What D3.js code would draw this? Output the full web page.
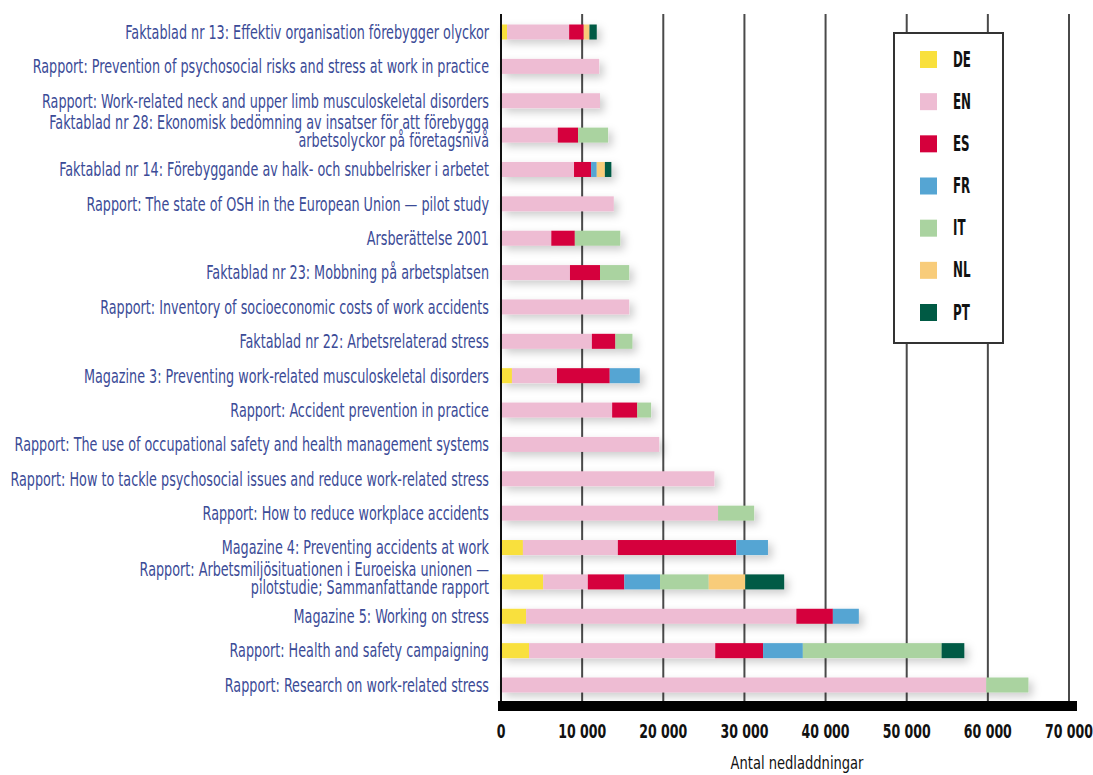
<!DOCTYPE html>
<html>
<head>
<meta charset="utf-8">
<script src="https://cdn.jsdelivr.net/npm/d3@7"></script>
<style>
  body { margin: 0; background: #ffffff; }
  svg { display: block; }
  .label { font-family: "DejaVu Sans Condensed", "DejaVu Sans", sans-serif; font-size: 19px; fill: #3b4b97; }
  .tick-label { font-family: "DejaVu Sans Condensed", "DejaVu Sans", sans-serif; font-size: 19px; font-weight: bold; fill: #111; }
  .legend-text { font-family: "DejaVu Sans Condensed", "DejaVu Sans", sans-serif; font-size: 21px; font-weight: bold; fill: #111; }
  .axis-title { font-family: "DejaVu Sans Condensed", "DejaVu Sans", sans-serif; font-size: 18px; fill: #111; }
</style>
</head>
<body>
<div id="chart"></div>
<script>
// publications, top to bottom (two-line titles split with |)
var titles = [
  "Faktablad nr 13: Effektiv organisation förebygger olyckor",
  "Rapport: Prevention of psychosocial risks and stress at work in practice",
  "Rapport: Work-related neck and upper limb musculoskeletal disorders",
  "Faktablad nr 28: Ekonomisk bedömning av insatser för att förebygga|arbetsolyckor på företagsnivå",
  "Faktablad nr 14: Förebyggande av halk- och snubbelrisker i arbetet",
  "Rapport: The state of OSH in the European Union — pilot study",
  "Arsberättelse 2001",
  "Faktablad nr 23: Mobbning på arbetsplatsen",
  "Rapport: Inventory of socioeconomic costs of work accidents",
  "Faktablad nr 22: Arbetsrelaterad stress",
  "Magazine 3: Preventing work-related musculoskeletal disorders",
  "Rapport: Accident prevention in practice",
  "Rapport: The use of occupational safety and health management systems",
  "Rapport: How to tackle psychosocial issues and reduce work-related stress",
  "Rapport: How to reduce workplace accidents",
  "Magazine 4: Preventing accidents at work",
  "Rapport: Arbetsmiljösituationen i Euroeiska unionen —|pilotstudie; Sammanfattande rapport",
  "Magazine 5: Working on stress",
  "Rapport: Health and safety campaigning",
  "Rapport: Research on work-related stress"
];

var languages = ["DE", "EN", "ES", "FR", "IT", "NL", "PT"];

// downloads per language, same order as titles
var DE = [750, 0, 0, 0, 0, 0, 0, 0, 0, 0, 1350, 0, 0, 0, 0, 2700, 5200, 3100, 3450, 0];
var EN = [7650, 12100, 12200, 7000, 9000, 13900, 6200, 8500, 15800, 11200, 5550, 13700, 19500, 26300, 26750, 11700, 5500, 33300, 22950, 59800];
var ES = [1800, 0, 0, 2500, 2100, 0, 2900, 3700, 0, 2900, 6500, 3100, 0, 0, 0, 14600, 4500, 4500, 5900, 0];
var FR = [0, 0, 0, 0, 700, 0, 0, 0, 0, 0, 3700, 0, 0, 0, 0, 3900, 4400, 3200, 4900, 0];
var IT = [0, 0, 0, 3700, 0, 0, 5600, 3600, 0, 2100, 0, 1700, 0, 0, 4450, 0, 6000, 0, 17100, 5200];
var NL = [700, 0, 0, 0, 1000, 0, 0, 0, 0, 0, 0, 0, 0, 0, 0, 0, 4500, 0, 0, 0];
var PT = [900, 0, 0, 0, 800, 0, 0, 0, 0, 0, 0, 0, 0, 0, 0, 0, 4800, 0, 2800, 0];

var xTicks = [0, 10000, 20000, 30000, 40000, 50000, 60000, 70000];

var colors = {
  DE: "#f9e03c", EN: "#eebcd3", ES: "#d5003c", FR: "#55a5d3",
  IT: "#aad3a0", NL: "#f8cc7a", PT: "#005a44"
};

var width = 1093, height = 775;

// build rows for the stack
var series = {DE: DE, EN: EN, ES: ES, FR: FR, IT: IT, NL: NL, PT: PT};
var rows = titles.map(function(t, i) {
  var r = {title: t, index: i};
  languages.forEach(function(l) { r[l] = series[l][i]; });
  return r;
});

var stacked = d3.stack().keys(languages)(rows);

var xScale = d3.scaleLinear()
    .domain([0, 70000])
    .range([501, 1069]);

var yScale = d3.scalePoint()
    .domain(d3.range(titles.length))
    .range([32, 685]);

var barH = 15;

var svg = d3.select("#chart")
    .append("svg")
    .attr("width", width)
    .attr("height", height);

// soft shadow under the bars
var defs = svg.append("defs");
var filter = defs.append("filter")
    .attr("id", "shadow")
    .attr("x", "-10%").attr("y", "-60%")
    .attr("width", "130%").attr("height", "260%");
filter.append("feDropShadow")
    .attr("dx", 4).attr("dy", 4)
    .attr("stdDeviation", 4)
    .attr("flood-color", "#000")
    .attr("flood-opacity", 0.2);

// squeeze a text horizontally so it looks like the condensed original font
function squeeze(sel, x, y, s) {
  sel.attr("x", 0).attr("y", 0)
     .attr("transform", "translate(" + x + "," + y + ") scale(" + s + ",1)");
}

// vertical gridlines
svg.append("g")
    .selectAll("line")
    .data(xTicks.slice(1))
    .join("line")
    .attr("x1", d => xScale(d))
    .attr("x2", d => xScale(d))
    .attr("y1", 14)
    .attr("y2", 702)
    .attr("stroke", "#4a4a4a")
    .attr("stroke-width", 2);

// legend box
var legend = svg.append("g");
legend.append("rect")
    .attr("x", 894).attr("y", 33)
    .attr("width", 109).attr("height", 310)
    .attr("fill", "#fff")
    .attr("stroke", "#333")
    .attr("stroke-width", 2);

var legendY = d3.scalePoint()
    .domain(languages)
    .range([59, 312]);

legend.selectAll(".sw")
    .data(languages)
    .join("rect")
    .attr("class", "sw")
    .attr("x", 920)
    .attr("y", d => legendY(d) - 8)
    .attr("width", 17)
    .attr("height", 17)
    .attr("fill", d => colors[d]);

var legText = legend.selectAll(".legend-text")
    .data(languages)
    .join("text")
    .attr("class", "legend-text")
    .attr("dy", "0.36em")
    .text(d => d);
var deW = legText.filter(d => d === "DE").node().getComputedTextLength();
var legS = 18 / deW;
legText.each(function(d) { squeeze(d3.select(this), 953, legendY(d), legS); });

// bars
var bars = svg.append("g")
    .selectAll("g")
    .data(rows)
    .join("g")
    .attr("filter", "url(#shadow)");

bars.selectAll("rect")
    .data((d, i) => stacked.map(s => ({key: s.key, v: s[i], i: i})).filter(o => o.v[1] > o.v[0]))
    .join("rect")
    .attr("x", d => xScale(d.v[0]))
    .attr("width", d => xScale(d.v[1]) - xScale(d.v[0]))
    .attr("y", d => yScale(d.i) - barH / 2)
    .attr("height", barH)
    .attr("fill", d => colors[d.key]);

// zero line
svg.append("line")
    .attr("x1", xScale(0)).attr("x2", xScale(0))
    .attr("y1", 14).attr("y2", 702)
    .attr("stroke", "#111")
    .attr("stroke-width", 2);

// thick bottom axis bar
svg.append("rect")
    .attr("x", 498).attr("y", 701)
    .attr("width", 579).attr("height", 10)
    .attr("fill", "#000");

// y labels
var labels = svg.append("g")
    .selectAll("text")
    .data(titles)
    .join("text")
    .attr("class", "label")
    .attr("text-anchor", "end");

labels.each(function(d) {
  var parts = d.split("|");
  var t = d3.select(this);
  if (parts.length === 1) {
    t.attr("dy", "0.36em").text(d);
  } else {
    t.append("tspan").attr("x", 0).attr("y", -6).text(parts[0]);
    t.append("tspan").attr("x", 0).attr("y", 12).text(parts[1]);
  }
});

// longest one-line title sets the squeeze factor
var refW = labels.filter((d, i) => i === 13).node().getComputedTextLength();
var labS = 479 / refW;
labels.each(function(d, i) {
  var t = d3.select(this);
  t.attr("transform", "translate(489," + yScale(i) + ") scale(" + labS + ",1)");
});

// x tick labels
var fmt = d => d === 0 ? "0" : d3.format(",")(d).replace(",", " ");
var ticks = svg.append("g")
    .selectAll("text")
    .data(xTicks)
    .join("text")
    .attr("class", "tick-label")
    .attr("text-anchor", "middle")
    .text(fmt);
var tW = ticks.filter(d => d === 10000).node().getComputedTextLength();
var tickS = 48 / tW;
ticks.each(function(d) { squeeze(d3.select(this), xScale(d), 738, tickS); });

// axis title
var title = svg.append("text")
    .attr("class", "axis-title")
    .attr("text-anchor", "middle")
    .text("Antal nedladdningar");
squeeze(title, 797, 769, 133 / title.node().getComputedTextLength());
</script>
</body>
</html>
